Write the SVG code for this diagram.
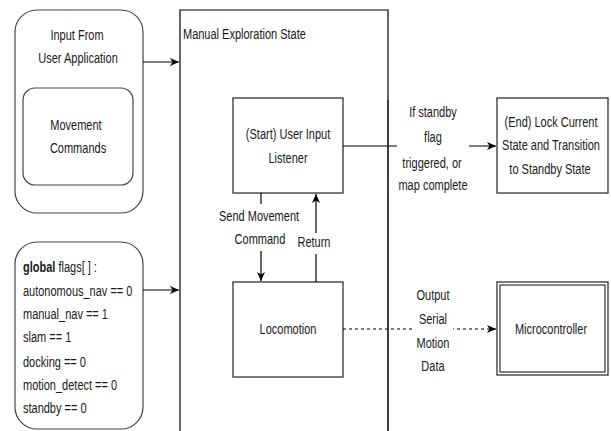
<svg xmlns="http://www.w3.org/2000/svg" width="611" height="431" viewBox="0 0 611 431">
<style>
text{font-family:"Liberation Sans",Arial,sans-serif;font-size:15px;fill:#1a1a1a}
.c{text-anchor:middle}
.box{fill:#fff;stroke:#333;stroke-width:1.3}
.rbox{fill:#fff;stroke:#444;stroke-width:1.2}
.ln{fill:none;stroke:#000;stroke-width:1.2}
.dot{fill:none;stroke:#000;stroke-width:1.2;stroke-dasharray:3 3}
.lbl{fill:#fff;stroke:none}
</style>
<defs>
<marker id="arr" markerWidth="10" markerHeight="10" refX="9" refY="5" orient="auto" markerUnits="userSpaceOnUse">
<path d="M0,1 L9,5 L0,9 L2.5,5 z" fill="#000"/>
</marker>
</defs>
<rect width="611" height="431" fill="#fff"/>

<g id="manual-exploration-state">
<path d="M180,440 V10 H388 V440" class="ln" stroke="#222"/>
<g transform="scale(0.734 1)"><text x="249.3" y="39">Manual Exploration State</text></g>
</g>

<g id="input-from-user">
<rect x="15" y="10" width="128" height="203" rx="22" ry="22" class="rbox"/>
<g transform="scale(0.734 1)">
<text class="c" x="104.9" y="40">Input From</text>
<text class="c" x="106.3" y="63">User Application</text>
</g>
</g>

<g id="movement-commands">
<rect x="23" y="88" width="110" height="97" rx="12" ry="12" class="rbox"/>
<g transform="scale(0.734 1)">
<text class="c" x="103.5" y="130">Movement</text>
<text class="c" x="106.3" y="153">Commands</text>
</g>
</g>

<g id="global-flags">
<rect x="15" y="242" width="128" height="187" rx="22" ry="22" class="rbox"/>
<g transform="scale(0.734 1)">
<text x="31.3" y="272"><tspan font-weight="bold">global</tspan> flags[ ] :</text>
<text x="31.3" y="296">autonomous_nav == 0</text>
<text x="31.3" y="319">manual_nav == 1</text>
<text x="31.3" y="342">slam == 1</text>
<text x="31.3" y="367">docking == 0</text>
<text x="31.3" y="390">motion_detect == 0</text>
<text x="31.3" y="413">standby == 0</text>
</g>
</g>

<g id="user-input-listener">
<rect x="233" y="98" width="110" height="95" class="box"/>
<g transform="scale(0.734 1)">
<text class="c" x="392.4" y="139">(Start) User Input</text>
<text class="c" x="392.4" y="163">Listener</text>
</g>
</g>

<g id="locomotion">
<rect x="233" y="282" width="110" height="95" class="box"/>
<g transform="scale(0.734 1)"><text class="c" x="392.4" y="334">Locomotion</text></g>
</g>

<g id="end-state">
<rect x="497" y="98" width="111" height="95" class="box"/>
<g transform="scale(0.734 1)">
<text class="c" x="750.7" y="127">(End) Lock Current</text>
<text class="c" x="750.7" y="150">State and Transition</text>
<text class="c" x="749.3" y="174">to Standby State</text>
</g>
</g>

<g id="microcontroller">
<rect x="497" y="282" width="111" height="93" class="box"/>
<rect x="500" y="285" width="105" height="87" fill="none" stroke="#333" stroke-width="1.2"/>
<g transform="scale(0.734 1)"><text class="c" x="750.7" y="334">Microcontroller</text></g>
</g>

<g id="connectors">
<line x1="143" y1="62" x2="179" y2="62" class="ln" marker-end="url(#arr)"/>
<line x1="143" y1="290" x2="179" y2="290" class="ln" marker-end="url(#arr)"/>

<line x1="261" y1="193" x2="261" y2="281" class="ln" marker-end="url(#arr)"/>
<rect x="217" y="204" width="84" height="47" class="lbl"/>
<line x1="316" y1="282" x2="316" y2="194" class="ln" marker-end="url(#arr)"/>
<rect x="297" y="233" width="37" height="21" class="lbl"/>
<line x1="343" y1="146" x2="496" y2="146" class="ln" marker-end="url(#arr)"/>
<rect x="397" y="101" width="72" height="94" class="lbl"/>
<line x1="343" y1="329" x2="496" y2="329" class="dot" marker-end="url(#arr)"/>
<rect x="415" y="283" width="38" height="95" class="lbl"/>
<line x1="388" y1="100" x2="388" y2="440" stroke="#222" stroke-width="1.2"/>
<g transform="scale(0.734 1)">
<text class="c" x="352.9" y="221">Send Movement</text>
<text class="c" x="354.2" y="244">Command</text>
<text class="c" x="427.8" y="247">Return</text>
<text class="c" x="589.9" y="117">If standby</text>
<text class="c" x="589.9" y="142">flag</text>
<text class="c" x="588.6" y="168">triggered, or</text>
<text class="c" x="589.9" y="190">map complete</text>
<text class="c" x="589.9" y="300">Output</text>
<text class="c" x="589.9" y="324">Serial</text>
<text class="c" x="589.9" y="348">Motion</text>
<text class="c" x="589.9" y="371">Data</text>
</g>
</g>
</svg>
